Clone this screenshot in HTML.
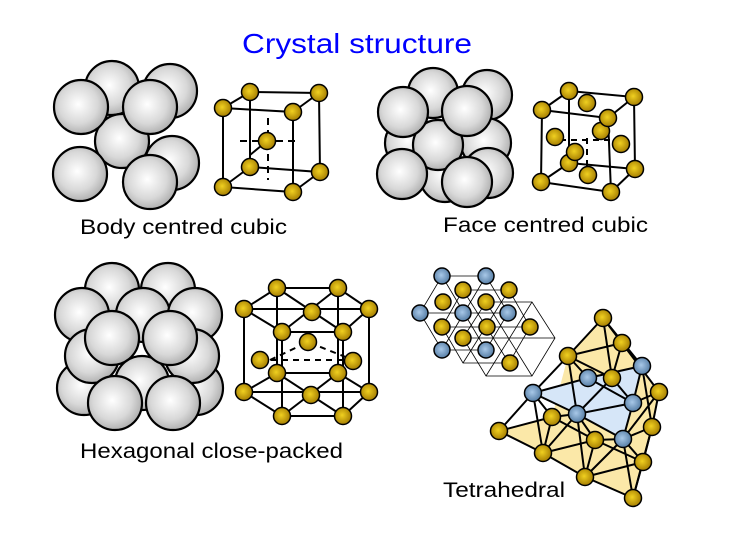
<!DOCTYPE html>
<html><head><meta charset="utf-8"><style>
html,body{margin:0;padding:0;background:#fff;}
svg{display:block;}
text{font-family:"Liberation Sans",sans-serif;}
</style></head><body>
<svg width="731" height="545" viewBox="0 0 731 545" xmlns="http://www.w3.org/2000/svg">
<defs>
<radialGradient id="sg" cx="0.45" cy="0.45" r="0.6"><stop offset="0" stop-color="#ffffff"/><stop offset="0.6" stop-color="#d8d8d8"/><stop offset="1" stop-color="#a8a8a8"/></radialGradient>
<radialGradient id="gg" cx="0.45" cy="0.45" r="0.6"><stop offset="0" stop-color="#f0d020"/><stop offset="1" stop-color="#a07800"/></radialGradient>
<radialGradient id="bg" cx="0.45" cy="0.45" r="0.6"><stop offset="0" stop-color="#a8c8e8"/><stop offset="1" stop-color="#5078a0"/></radialGradient>
</defs>
<g stroke="#000" stroke-width="2.2" fill="url(#sg)">
<!-- BCC spheres -->
<circle cx="112" cy="88" r="27"/><circle cx="170" cy="91" r="27"/>
<circle cx="172" cy="163" r="27"/>
<circle cx="122" cy="141" r="27"/>
<circle cx="81" cy="107" r="27"/><circle cx="150" cy="107" r="27"/>
<circle cx="80" cy="174" r="27"/><circle cx="150" cy="182" r="27"/>
<!-- FCC spheres -->
<circle cx="433" cy="93" r="25"/><circle cx="487" cy="95" r="25"/>
<circle cx="410" cy="143" r="25"/><circle cx="486" cy="143" r="25"/>
<circle cx="488" cy="173" r="25"/><circle cx="445" cy="177" r="25"/>
<circle cx="438" cy="145" r="25"/>
<circle cx="403" cy="112" r="25"/><circle cx="467" cy="111" r="25"/>
<circle cx="402" cy="174" r="25"/><circle cx="467" cy="182" r="25"/>
<!-- HCP spheres -->
<circle cx="112" cy="290" r="27"/><circle cx="168" cy="290" r="27"/>
<circle cx="82" cy="315" r="27"/><circle cx="143" cy="315" r="27"/><circle cx="195" cy="315" r="27"/>
<circle cx="84" cy="388" r="27"/><circle cx="196" cy="388" r="27"/>
<circle cx="142" cy="383" r="27"/>
<circle cx="92" cy="356" r="27"/><circle cx="192" cy="356" r="27"/>
<circle cx="112" cy="338" r="27"/><circle cx="170" cy="338" r="27"/>
<circle cx="115" cy="403" r="27"/><circle cx="173" cy="403" r="27"/>
</g>
<!-- BCC cube -->
<g stroke="#000" stroke-width="2" fill="none">
<path d="M250 92 L319 93 L320 172 L250 167 Z"/>
<path d="M223 108 L293 112 L293 192 L223 187 Z"/>
<path d="M250 92 L223 108 M319 93 L293 112 M320 172 L293 192 M250 167 L223 187"/>
<path d="M267 141 L250 155" />
<path d="M268 118 V180 M240 141 H300" stroke-dasharray="7 5"/>
</g>
<g stroke="#000" stroke-width="1.5" fill="url(#gg)">
<circle cx="250" cy="92" r="8.5"/><circle cx="319" cy="93" r="8.5"/><circle cx="250" cy="167" r="8.5"/><circle cx="320" cy="172" r="8.5"/>
<circle cx="267" cy="141" r="8.5"/>
<circle cx="223" cy="108" r="8.5"/><circle cx="293" cy="112" r="8.5"/><circle cx="223" cy="187" r="8.5"/><circle cx="293" cy="192" r="8.5"/>
</g>
<!-- FCC cube -->
<g stroke="#000" stroke-width="2" fill="none">
<path d="M569 91 L634 97 L635 169 L569 163 Z"/>
<path d="M542 110 L608 118 L611 192 L541 182 Z"/>
<path d="M569 91 L542 110 M634 97 L608 118 M635 169 L611 192 M569 163 L541 182"/>
<path d="M587 138 V175 M560 140 H612" stroke-dasharray="6 5"/>
</g>
<g stroke="#000" stroke-width="1.5" fill="url(#gg)">
<circle cx="569" cy="91" r="8.5"/><circle cx="634" cy="97" r="8.5"/><circle cx="569" cy="163" r="8.5"/><circle cx="635" cy="169" r="8.5"/>
<circle cx="587" cy="103" r="8.5"/><circle cx="555" cy="137" r="8.5"/><circle cx="621" cy="144" r="8.5"/><circle cx="588" cy="175" r="8.5"/>
<circle cx="601" cy="131" r="8.5"/>
<circle cx="542" cy="110" r="8.5"/><circle cx="608" cy="118" r="8.5"/><circle cx="541" cy="182" r="8.5"/><circle cx="611" cy="192" r="8.5"/>
<circle cx="575" cy="152" r="8.5"/>
</g>
<!-- HCP lattice -->
<g stroke="#000" stroke-width="2" fill="none">
<path d="M277 288 L338 288 L369 309 L343 332 L282 332 L244 309 Z"/>
<path d="M277 373 L338 373 L369 392 L343 416 L282 416 L244 392 Z"/>
<path d="M244 309 L369 309 M277 288 L343 332 M338 288 L282 332"/>
<path d="M244 392 L369 392 M277 373 L343 416 M338 373 L282 416"/>
<path d="M244 309 V392 M369 309 V392 M282 332 V416 M343 332 V416 M277 288 V373 M338 288 V373"/>
<path d="M260 360 H353 M270 360 L308 342 L353 360" stroke-dasharray="6 5"/>
</g>
<g stroke="#000" stroke-width="1.5" fill="url(#gg)">
<circle cx="277" cy="288" r="8.5"/><circle cx="338" cy="288" r="8.5"/><circle cx="369" cy="309" r="8.5"/><circle cx="343" cy="332" r="8.5"/><circle cx="282" cy="332" r="8.5"/><circle cx="244" cy="309" r="8.5"/><circle cx="312" cy="312" r="8.5"/>
<circle cx="308" cy="342" r="8.5"/><circle cx="260" cy="360" r="8.5"/><circle cx="353" cy="361" r="8.5"/>
<circle cx="277" cy="373" r="8.5"/><circle cx="338" cy="373" r="8.5"/><circle cx="369" cy="392" r="8.5"/><circle cx="343" cy="416" r="8.5"/><circle cx="282" cy="416" r="8.5"/><circle cx="244" cy="392" r="8.5"/><circle cx="311" cy="395" r="8.5"/>
</g>
<!-- Tetrahedral grid -->
<g stroke="#000" stroke-width="0.8" fill="none">
<path d="M442 276 L486 276 L508 313 L486 350 L442 350 L420 313 Z"/>
<path d="M420 313 H508 M442 276 L486 350 M486 276 L442 350"/>
<path d="M463 290 L509 290 L530 327 L509 363 L463 363 L442 327 Z"/>
<path d="M442 327 H530 M463 290 L509 363 M509 290 L463 363"/>
<path d="M486 302 L532 302 L555 338 L532 376 L486 376 L463 338 Z"/>
<path d="M463 338 H555 M486 302 L532 376 M532 302 L486 376"/>
</g>
<g stroke="#000" stroke-width="1.5">
<g fill="url(#bg)">
<circle cx="442" cy="276" r="8"/><circle cx="486" cy="276" r="8"/><circle cx="420" cy="313" r="8"/><circle cx="463" cy="313" r="8"/><circle cx="508" cy="313" r="8"/><circle cx="442" cy="350" r="8"/><circle cx="486" cy="350" r="8"/>
</g>
<g fill="url(#gg)">
<circle cx="463" cy="290" r="8"/><circle cx="509" cy="290" r="8"/><circle cx="443" cy="302" r="8"/><circle cx="486" cy="302" r="8"/><circle cx="442" cy="327" r="8"/><circle cx="487" cy="327" r="8"/><circle cx="530" cy="327" r="8"/><circle cx="463" cy="338" r="8"/><circle cx="510" cy="363" r="8"/>
</g>
</g>
<!-- Tetrahedron network -->
<g stroke="none">
<path d="M499 431 L543 453 L585 477 L633 498 L643 462 L652 427 L659 392 L622 343 L603 318 L568 356 L552 417 Z" fill="#fbe8a8"/>
<path d="M533 393 L588 378 L642 366 L633 403 L623 439 L577 414 Z" fill="#d6e6f8"/>
</g>
<g stroke="#000" stroke-width="2" fill="none">
<path d="M603 318 L568 356 L622 343 Z M603 318 L612 378 M603 318 L642 366 M622 343 L612 378 M622 343 L642 366 M622 343 L659 392 M568 356 L588 378 M568 356 L533 393 M568 356 L612 378 M568 356 L577 414"/>
<path d="M533 393 L588 378 L642 366 M533 393 L577 414 L633 403 L642 366 M588 378 L633 403 M612 378 L577 414 M533 393 L552 417 M533 393 L543 453 M533 393 L499 431"/>
<path d="M499 431 L552 417 L577 414 M499 431 L543 453 L585 477 L633 498 L643 462 L652 427 L659 392 L633 403 L623 439 L577 414 L595 440 L623 439"/>
<path d="M543 453 L552 417 M543 453 L577 414 M543 453 L595 440 L643 462 M552 417 L595 440 M585 477 L595 440 M585 477 L577 414 M585 477 L623 439 M585 477 L643 462 M633 498 L623 439 M633 498 L652 427 M643 462 L623 439 M652 427 L623 439 M659 392 L623 439 M642 366 L652 427 M612 378 L633 403"/>
</g>
<g stroke="#000" stroke-width="1.5">
<g fill="url(#gg)">
<circle cx="603" cy="318" r="8.5"/><circle cx="622" cy="343" r="8.5"/><circle cx="568" cy="356" r="8.5"/><circle cx="612" cy="378" r="8.5"/><circle cx="659" cy="392" r="8.5"/><circle cx="552" cy="417" r="8.5"/><circle cx="499" cy="431" r="8.5"/><circle cx="595" cy="440" r="8.5"/><circle cx="652" cy="427" r="8.5"/><circle cx="543" cy="453" r="8.5"/><circle cx="643" cy="462" r="8.5"/><circle cx="585" cy="477" r="8.5"/><circle cx="633" cy="498" r="8.5"/>
</g>
<g fill="url(#bg)">
<circle cx="642" cy="366" r="8.5"/><circle cx="588" cy="378" r="8.5"/><circle cx="533" cy="393" r="8.5"/><circle cx="577" cy="414" r="8.5"/><circle cx="633" cy="403" r="8.5"/><circle cx="623" cy="439" r="8.5"/>
</g>
</g>
<!-- text -->
<text x="242" y="53" font-size="28" fill="#0000ff" textLength="230" lengthAdjust="spacingAndGlyphs">Crystal structure</text>
<text x="80" y="234" font-size="21" fill="#000" textLength="207" lengthAdjust="spacingAndGlyphs">Body centred cubic</text>
<text x="443" y="232" font-size="21" fill="#000" textLength="205" lengthAdjust="spacingAndGlyphs">Face centred cubic</text>
<text x="80" y="458" font-size="21" fill="#000" textLength="263" lengthAdjust="spacingAndGlyphs">Hexagonal close-packed</text>
<text x="443" y="497" font-size="21" fill="#000" textLength="122" lengthAdjust="spacingAndGlyphs">Tetrahedral</text>
</svg>
</body></html>
